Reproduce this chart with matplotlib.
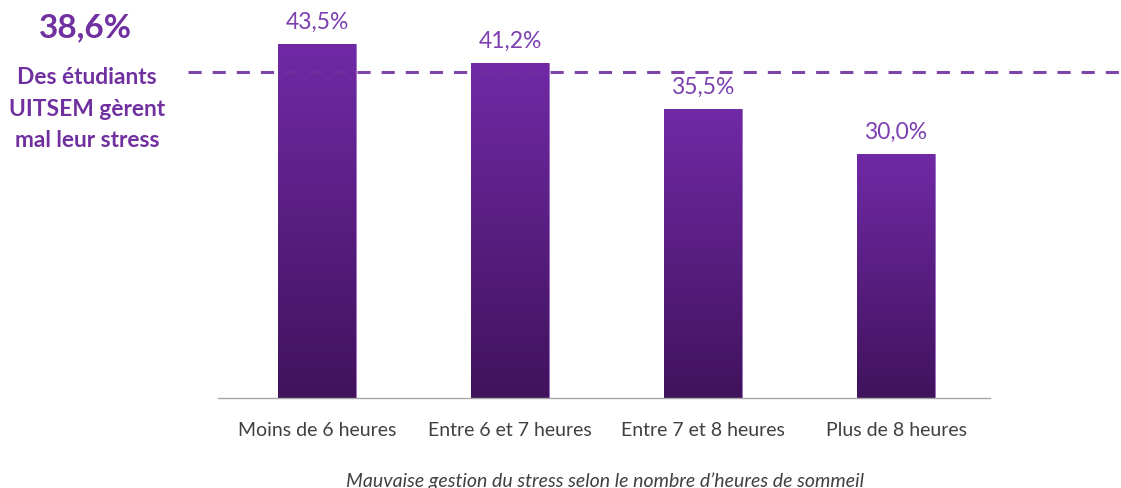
import numpy as np
import matplotlib
matplotlib.use('Agg')
import matplotlib.pyplot as plt
from matplotlib.colors import LinearSegmentedColormap

# data
categories = ["Moins de 6 heures", "Entre 6 et 7 heures", "Entre 7 et 8 heures", "Plus de 8 heures"]
values = [43.5, 41.2, 35.5, 30.0]
value_labels = ["43,5%", "41,2%", "35,5%", "30,0%"]
overall_label = "38,6%"
overall_text = "Des étudiants\nUITSEM gèrent\nmal leur stress"
dashed_level = 40.0  # where the dashed line sits in the picture
caption = "Mauvaise gestion du stress selon le nombre d\u2019heures de sommeil"

PURPLE = '#7030A0'
LABEL_PURPLE = '#7B3FB0'
TOP_COLOR = '#7129A6'
BOTTOM_COLOR = '#40135C'

plt.rcParams['font.family'] = ['Lato', 'DejaVu Sans']

fig = plt.figure(figsize=(11.21, 4.88), dpi=100)
ax = fig.add_axes([0.1945, 0.1844, 0.6887, 0.8156])

x = np.arange(len(categories))
bars = ax.bar(x, values, width=0.4, color=TOP_COLOR, edgecolor='#9A6CC2', linewidth=0.6, zorder=2)

ax.set_xlim(-0.513, 3.487)
ax.set_ylim(0, 48.9)

# vertical gradient inside each bar
cmap = LinearSegmentedColormap.from_list('bar', [BOTTOM_COLOR, TOP_COLOR])
grad = np.linspace(0, 1, 256).reshape(-1, 1)
for bar in bars:
    x0, w, h = bar.get_x(), bar.get_width(), bar.get_height()
    im = ax.imshow(grad, cmap=cmap, aspect='auto', origin='lower',
                   extent=[x0, x0 + w, 0, h], zorder=2.5)
    im.set_clip_path(bar)

for bar, lab in zip(bars, value_labels):
    ax.annotate(lab, xy=(bar.get_x() + bar.get_width() / 2, bar.get_height()),
                xytext=(0, 8), textcoords='offset points',
                ha='center', va='bottom', fontsize=16.5, color=LABEL_PURPLE)

ax.axhline(dashed_level, xmin=-0.039, xmax=1.2, color=PURPLE, linestyle=(0, (4.3, 3.6)),
           linewidth=2.2, alpha=0.9, clip_on=False, zorder=3)

ax.set_xticks(x)
ax.set_xticklabels(categories, fontsize=14, color='#404040')
ax.tick_params(axis='x', length=0, pad=17)
ax.set_yticks([])
for side in ['top', 'right', 'left']:
    ax.spines[side].set_visible(False)
ax.spines['bottom'].set_color('#A6A6A6')
ax.spines['bottom'].set_linewidth(1.0)

fig.text(85 / 1121, 1 - 28 / 488, overall_label, ha='center', va='center',
         fontsize=24, fontweight='bold', color=PURPLE)
fig.text(87 / 1121, 1 - 109 / 488, overall_text, ha='center', va='center',
         fontsize=16.4, fontweight='bold', color=PURPLE, linespacing=1.6)

fig.text(605 / 1121, 1 - 481 / 488, caption, ha='center', va='center',
         fontsize=14, style='italic', color='#404040')

fig.savefig('out.png', dpi=100)
